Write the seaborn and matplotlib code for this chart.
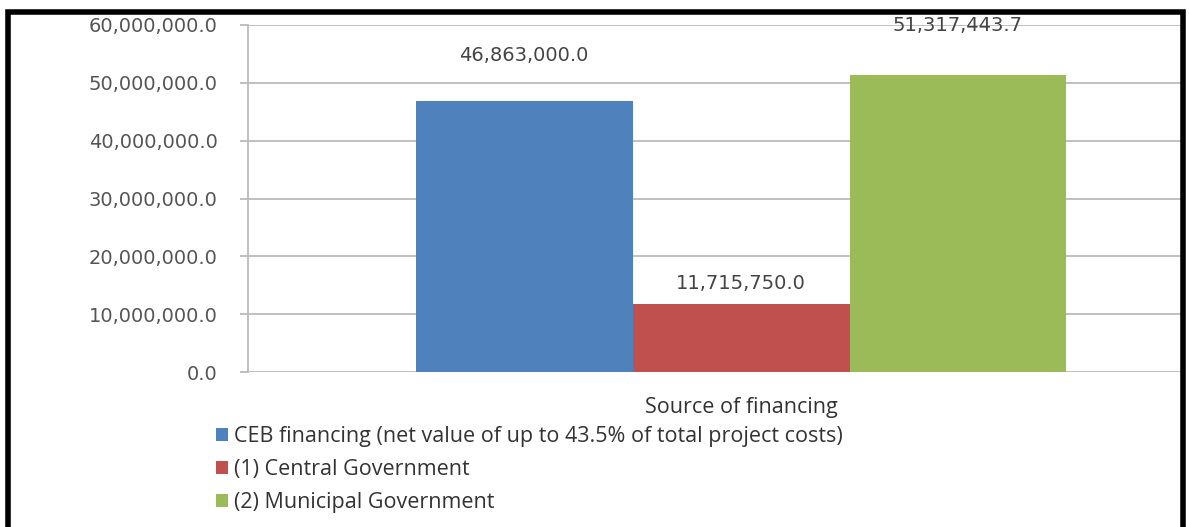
import matplotlib
matplotlib.use("Agg")
import matplotlib.pyplot as plt
from matplotlib.patches import Rectangle, Patch
import seaborn as sns
import pandas as pd

# Financing sources and amounts
category = ["Source of financing"]
series = [
    "CEB financing (net value of up to 43.5% of total project costs)",
    "(1) Central Government",
    "(2) Municipal Government",
]
values = [46863000.0, 11715750.0, 51317443.7]
colors = ["#4F81BD", "#C0504D", "#9BBB59"]

df = pd.DataFrame({
    "source": category * len(series),
    "series": series,
    "value": values,
})

sns.set_theme(style="white")
plt.rcParams["font.family"] = ["DejaVu Sans"]

W, H = 1189, 527
fig = plt.figure(figsize=(W / 100, H / 100), dpi=100)
fig.patch.set_facecolor("white")

# axes placed in pixel terms
left, right, top, bottom = 248, 1182, 25, 372
ax = fig.add_axes([left / W, 1 - bottom / H, (right - left) / W, (bottom - top) / H])

sns.barplot(data=df, x="source", y="value", hue="series", hue_order=series,
            palette=colors, saturation=1, width=0.8, ax=ax, legend=False,
            edgecolor="none", linewidth=0, zorder=3)

ax.set_ylim(0, 60000000)
ticks = list(range(0, 60000001, 10000000))
ax.set_yticks(ticks)
ax.set_yticklabels([f"{v:,.1f}" for v in ticks], fontsize=14, color="#555555")
ax.yaxis.grid(True, color="#BBBBBB", linewidth=1.3, zorder=0)
ax.tick_params(axis="y", which="both", left=True, length=6, width=1.3,
               color="#BBBBBB", pad=16)
ax.set_xlim(-0.606, 0.542)
ax.tick_params(axis="x", length=0, pad=18)
for lbl in ax.get_xticklabels():
    lbl.set_fontfamily("Open Sans")
    lbl.set_fontsize(15.5)
    lbl.set_color("#333333")
ax.set_xlabel("")
ax.set_ylabel("")
for s in ["top", "right", "bottom"]:
    ax.spines[s].set_visible(False)
ax.spines["left"].set_color("#BBBBBB")
ax.spines["left"].set_linewidth(1.3)
ax.spines["left"].set_zorder(1)

# value labels above each bar
label_pads = [26, 8, 29]
for cont, v, p in zip(ax.containers, values, label_pads):
    ax.bar_label(cont, labels=[f"{v:,.1f}"], padding=p, fontsize=14,
                 color="#444444")

# legend below the axes
handles = [Patch(facecolor=c, edgecolor="none") for c in colors]
fig.legend(handles, series, loc="upper left",
           bbox_to_anchor=(216 / W, 1 - 426 / H), frameon=False,
           prop={"family": "Open Sans", "size": 15.5}, labelcolor="#333333",
           handlelength=0.55, handleheight=0.55, handletextpad=0.3,
           labelspacing=0.55, borderpad=0, borderaxespad=0)

# black frame around the chart
frame = Rectangle((8 / W, -0.05), (1183 - 8) / W, 1.05 - 12 / H,
                  transform=fig.transFigure, fill=False, edgecolor="black",
                  linewidth=4, zorder=10)
fig.patches.append(frame)

fig.savefig("out.png", dpi=100, facecolor="white")
